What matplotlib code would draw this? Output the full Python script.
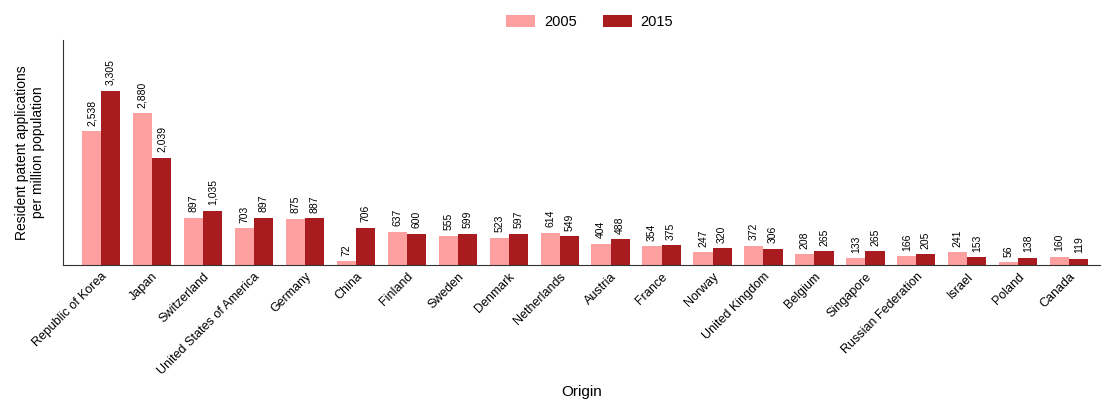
import numpy as np
import matplotlib.pyplot as plt

plt.rcParams['font.family'] = ['Liberation Sans Narrow', 'Liberation Sans', 'DejaVu Sans']

countries = ["Republic of Korea", "Japan", "Switzerland", "United States of America",
             "Germany", "China", "Finland", "Sweden", "Denmark", "Netherlands",
             "Austria", "France", "Norway", "United Kingdom", "Belgium", "Singapore",
             "Russian Federation", "Israel", "Poland", "Canada"]
v2005 = [2538, 2880, 897, 703, 875, 72, 637, 555, 523, 614,
         404, 354, 247, 372, 208, 133, 166, 241, 56, 160]
v2015 = [3305, 2039, 1035, 897, 887, 706, 600, 599, 597, 549,
         488, 375, 320, 306, 265, 265, 205, 153, 138, 119]

fig = plt.figure(figsize=(11.02, 4.03), dpi=100)
ax = fig.add_axes([0.057, 0.342, 0.941, 0.559])

x = np.arange(len(countries))
w = 0.375
b1 = ax.bar(x - w/2, v2005, w, color="#FFA0A0", label="2005")
b2 = ax.bar(x + w/2, v2015, w, color="#A81C1F", label="2015")

for bars in (b1, b2):
    for bar in bars:
        h = bar.get_height()
        ax.annotate(f"{h:,.0f}", (bar.get_x() + bar.get_width()/2, h),
                    xytext=(0, 4), textcoords="offset points",
                    ha="center", va="bottom", rotation=90, fontsize=7.5)

ax.set_xlim(-0.75, 19.6)
ax.set_ylim(0, 4270)
ax.set_xticks(x)
ax.set_xticklabels(countries, rotation=45, ha="right", rotation_mode="anchor", fontsize=9)
ax.tick_params(axis="x", length=0, pad=4)
ax.set_yticks([])
ax.spines["top"].set_visible(False)
ax.spines["right"].set_visible(False)
ax.spines["left"].set_color("#333333")
ax.spines["bottom"].set_color("#333333")

ax.set_ylabel("Resident patent applications\nper million population", fontsize=10)
ax.yaxis.set_label_coords(-0.017, 0.5)
ax.set_xlabel("Origin", fontsize=11)
ax.xaxis.set_label_coords(0.5, -0.53)

fig.legend(loc="upper center", bbox_to_anchor=(0.535, 0.995), ncol=2, frameon=False,
           fontsize=10.5, handlelength=2.0, handleheight=0.9, handletextpad=0.6,
           columnspacing=1.8)

plt.savefig("out.png")
